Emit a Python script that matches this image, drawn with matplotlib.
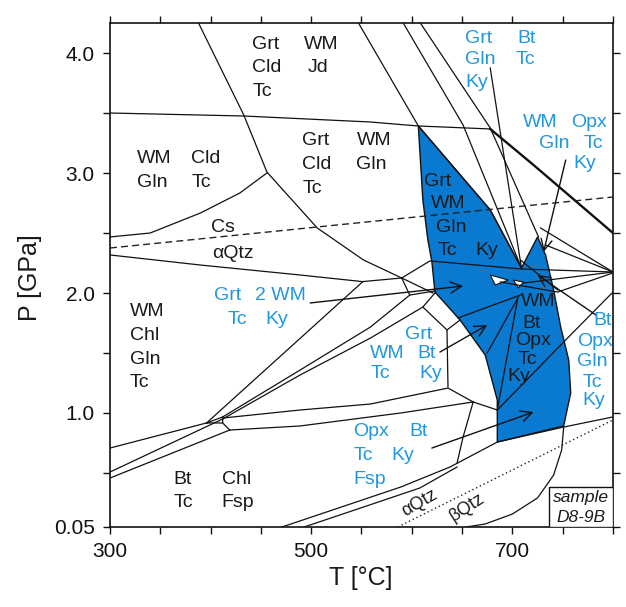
import matplotlib
matplotlib.use('Agg')
import matplotlib.pyplot as plt
from matplotlib.patches import Polygon, Rectangle

plt.rcParams['font.family'] = ['Liberation Sans', 'DejaVu Sans']

# ---------------- data (T in degC, P in GPa) ----------------
x_ticks = [300, 350, 400, 450, 500, 550, 600, 650, 700, 750, 800]
x_ticklabels = ['300', '', '', '', '500', '', '', '', '700', '', '']
y_ticks = [0.05, 0.5, 1.0, 1.5, 2.0, 2.5, 3.0, 3.5, 4.0]
y_ticklabels = ['0.05', '', '1.0', '', '2.0', '', '3.0', '', '4.0']

# thin phase boundaries
b_cld = ([388, 433, 456, 506, 552, 590, 621], [4.25, 3.483, 3.008, 2.542, 2.275, 2.125, 2.0])
b_jd = ([300, 433, 559, 606, 678], [3.5, 3.475, 3.425, 3.392, 3.367])
b_cs = ([300, 340, 390, 429, 456], [2.467, 2.5, 2.667, 2.833, 3.0])
b_gln = ([300, 390, 489, 551, 590], [2.317, 2.233, 2.15, 2.095, 2.125])
b_mid = ([590, 618, 709, 800], [2.125, 2.267, 2.2, 2.175])
b_short = ([590, 598, 623], [2.125, 1.983, 2.017])
b_chl1 = ([396, 551], [0.917, 2.092])
b_chl2 = ([412, 489, 559, 598], [0.967, 1.358, 1.717, 1.983])
b_chl3 = ([412, 489, 559, 611, 623], [0.95, 1.317, 1.625, 1.883, 2.0])
b_hexa = ([611, 635, 636], [1.883, 1.692, 1.217])
b_hexb = ([635, 648], [1.692, 1.775])
b_g8 = ([412, 489, 559, 636, 661], [0.958, 1.025, 1.075, 1.208, 1.092])
b_g7 = ([419, 489, 589, 661, 685], [0.858, 0.892, 1.0, 1.092, 1.025])
b_g1 = ([300, 396], [0.708, 0.917])
b_g2 = ([300, 412], [0.508, 0.95])
b_g3 = ([300, 419], [0.458, 0.858])
b_wedge = ([396, 412, 412, 396], [0.917, 0.967, 0.917, 0.917])
b_wedge2 = ([412, 419], [0.917, 0.858])
b_f1 = ([471, 589, 638, 685, 751, 800], [0.05, 0.383, 0.55, 0.758, 0.883, 0.967])
b_f2 = ([493, 549, 608, 645], [0.05, 0.208, 0.375, 0.55])
b_curveq = ([661, 651, 645], [1.092, 0.8, 0.583])
b_bq = ([751, 749, 741, 725, 700, 673, 654], [0.883, 0.692, 0.483, 0.292, 0.158, 0.075, 0.05])
b_diag = ([800, 751, 685], [2.008, 1.592, 1.025])
b_in1 = ([646, 708], [1.792, 1.983])
b_in2 = ([675, 706], [1.5, 1.967])
b_in3 = ([685, 705], [1.025, 1.942])
b_r1 = ([688, 745, 800], [2.092, 2.008, 2.167])
b_r2 = ([708, 745], [2.275, 2.025])
b_fan1 = ([728, 800], [2.542, 2.175])
b_fan2 = ([733, 800], [2.4, 2.175])
b_fan3 = ([711, 800], [2.083, 2.175])
b_A = ([547, 606.5, 678, 709], [4.25, 3.392, 2.692, 2.208])
b_B = ([591.5, 651, 709], [4.25, 3.4, 2.208])
b_C = ([608.5, 678, 726], [4.25, 3.375, 2.467])
thin_lines = [b_cld, b_jd, b_cs, b_gln, b_mid, b_short, b_chl1, b_chl2, b_chl3,
              b_hexa, b_hexb, b_g8, b_g7, b_g1, b_g2, b_g3, b_wedge, b_wedge2,
              b_f1, b_f2, b_curveq, b_bq, b_diag, b_in1, b_in2, b_in3, b_r1, b_r2,
              b_fan1, b_fan2, b_fan3, b_A, b_B, b_C]

b_thick = ([678, 721, 800], [3.367, 3.067, 2.5])
coe_qtz = ([300, 800], [2.375, 2.80])          # coesite / alpha-quartz (dashed)
alpha_beta = ([586, 800], [0.05, 0.942])       # alpha / beta quartz (dotted)

# shaded field
field_T = [606.5, 678, 709, 725, 733, 741, 748, 756, 758, 751, 685, 685, 673, 648, 623, 620, 616, 611]
field_P = [3.392, 2.692, 2.208, 2.467, 2.317, 2.025, 1.717, 1.442, 1.167, 0.892, 0.758, 1.108,
           1.483, 1.775, 2.008, 2.258, 2.442, 2.775]
hole1_T = [678, 696, 683]
hole1_P = [2.15, 2.108, 2.067]
hole2_T = [701, 711, 706]
hole2_P = [2.108, 2.092, 2.042]

# pointer lines (start -> end), with arrow heads
arrows = [((499, 1.917), (651, 2.058)),
          ((628, 1.508), (675, 1.733)),
          ((620, 0.708), (721, 1.008)),
          ((783, 1.817), (725, 2.150)),
          ((753, 3.108), (731, 2.342))]
pointer_plain = ([678, 709], [3.875, 2.208])

# field labels: (text, T_left, P_center)
black_labels = [
    ('Grt', 441, 4.075), ('Cld', 441, 3.883), ('Tc', 442, 3.683),
    ('WM', 493, 4.075), ('Jd', 497, 3.883),
    ('WM', 327, 3.117), ('Gln', 327, 2.925), ('Cld', 381, 3.117), ('Tc', 381, 2.925),
    ('Grt', 491, 3.267), ('Cld', 491, 3.067), ('Tc', 491, 2.875),
    ('WM', 545, 3.267), ('Gln', 545, 3.067),
    ('Cs', 400, 2.55), ('αQtz', 402, 2.333),
    ('WM', 320, 1.842), ('Chl', 320, 1.65), ('Gln', 320, 1.442), ('Tc', 320, 1.258),
    ('Bt', 363, 0.442), ('Tc', 363, 0.258), ('Chl', 411, 0.442), ('Fsp', 411, 0.258),
    ('Grt', 612, 2.933), ('WM', 619, 2.75), ('Gln', 624, 2.542), ('Tc', 626, 2.358), ('Ky', 663, 2.358),
    ('WM', 708, 1.933), ('Bt', 710, 1.75), ('Opx', 703, 1.608), ('Tc', 705, 1.442), ('Ky', 695, 1.30),
]
blue_labels = [
    ('Grt', 403, 1.983), ('2 WM', 444, 1.983), ('Tc', 417, 1.783), ('Ky', 454, 1.783),
    ('Grt', 653, 4.125), ('Gln', 653, 3.942), ('Ky', 653, 3.758), ('Bt', 705, 4.125), ('Tc', 703, 3.942),
    ('WM', 710, 3.417), ('Opx', 758, 3.417), ('Gln', 726, 3.25), ('Tc', 771, 3.25), ('Ky', 761, 3.083),
    ('Grt', 593, 1.658), ('WM', 558, 1.492), ('Bt', 606, 1.492), ('Tc', 559, 1.325), ('Ky', 608, 1.325),
    ('Bt', 781, 1.767), ('Opx', 764, 1.592), ('Gln', 764, 1.433), ('Tc', 770, 1.258), ('Ky', 770, 1.10),
    ('Opx', 542, 0.842), ('Bt', 598, 0.842), ('Tc', 542, 0.642), ('Ky', 580, 0.642), ('Fsp', 542, 0.442),
]
rot_labels = [('αQtz', 608, 0.25, 30), ('βQtz', 655, 0.215, 33)]
sample_box = (736, 0.05, 64, 0.333)
sample_text = [('sample', 768, 0.292), ('D8-9B', 768, 0.133)]

# ---------------- drawing ----------------
FILL = '#0a79d0'
BLUE = '#2198dc'
TXT = '#1a1a1a'

fig = plt.figure(figsize=(6.26, 6.07), dpi=100)
ax = fig.add_axes([0.1757, 0.1318, 0.8035, 0.8303])
ax.set_xlim(300, 800)
ax.set_ylim(0.05, 4.25)

ax.add_patch(Polygon(list(zip(field_T, field_P)), closed=True, facecolor=FILL,
                     edgecolor='#111111', lw=1.0, zorder=1))
for hT, hP in [(hole1_T, hole1_P), (hole2_T, hole2_P)]:
    ax.add_patch(Polygon(list(zip(hT, hP)), closed=True, facecolor='white',
                         edgecolor='#111111', lw=0.8, zorder=2))

for T, P in thin_lines:
    ax.plot(T, P, color='#111111', lw=0.9, zorder=3)
ax.plot(*b_thick, color='#111111', lw=1.7, zorder=3)
ax.plot(*coe_qtz, color='#222222', lw=1.0, dashes=(5, 3), zorder=3)
ax.plot(*alpha_beta, color='#222222', lw=1.0, dashes=(1, 2), zorder=3)
ax.plot(*pointer_plain, color='#111111', lw=0.9, zorder=3)

for (s, e) in arrows:
    ax.annotate('', xy=e, xytext=s,
                arrowprops=dict(arrowstyle='->', lw=1.0, color='#111111',
                                mutation_scale=20, shrinkA=0, shrinkB=0), zorder=4)

for t, T, P in black_labels:
    ax.text(T, P, t, color=TXT, fontsize=14, ha='left', va='center', zorder=5)
for t, T, P in blue_labels:
    ax.text(T, P, t, color=BLUE, fontsize=14, ha='left', va='center', zorder=5)
for t, T, P, r in rot_labels:
    ax.text(T, P, t, color=TXT, fontsize=13, ha='center', va='center',
            rotation=r, rotation_mode='anchor', zorder=5)

ax.add_patch(Rectangle(sample_box[:2], sample_box[2], sample_box[3], facecolor='white',
                       edgecolor='#111111', lw=1.0, zorder=4))
for t, T, P in sample_text:
    ax.text(T, P, t, color=TXT, fontsize=12.5, style='italic', ha='center', va='center', zorder=5)

ax.set_xticks(x_ticks)
ax.set_xticklabels(x_ticklabels)
ax.set_yticks(y_ticks)
ax.set_yticklabels(y_ticklabels)
ax.tick_params(direction='out', length=5, width=1.0, labelsize=15, top=True, right=True,
               colors='#111111', pad=6)
for sp in ax.spines.values():
    sp.set_linewidth(1.2)
    sp.set_color('#111111')

fig.text(0.577, 0.048, 'T [°C]', fontsize=18, ha='center', va='center', color=TXT)
fig.text(0.048, 0.542, 'P [GPa]', fontsize=18, ha='center', va='center', rotation=90, color=TXT)

fig.savefig('out.png', dpi=100)
